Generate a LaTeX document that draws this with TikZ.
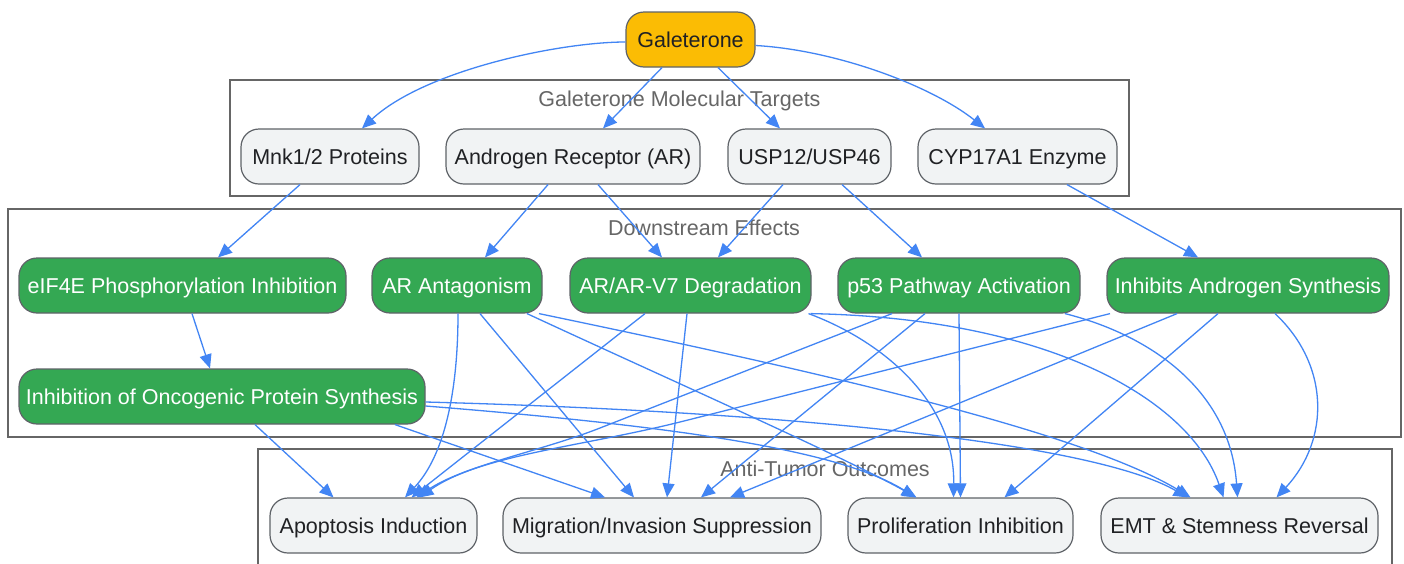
\documentclass[tikz,border=0pt]{standalone}
\usepackage{fontspec}
\setmainfont{Liberation Sans}
\usetikzlibrary{arrows.meta}
\definecolor{edgeblue}{HTML}{4285F4}
\definecolor{gnode}{HTML}{34A853}
\definecolor{ynode}{HTML}{FBBC04}
\definecolor{lnode}{HTML}{F1F3F4}
\definecolor{nborder}{HTML}{5F6368}
\definecolor{cborder}{HTML}{666666}
\definecolor{ntext}{HTML}{202124}
\begin{document}
\begin{tikzpicture}[x=1pt,y=-1pt,
  box/.style={draw=nborder, line width=1.2pt, rounded corners=18pt, minimum height=55pt, inner sep=0pt, text height=15.5pt, text depth=0pt, font=\fontsize{21.5}{25}\selectfont, anchor=center},
  lightbox/.style={box, fill=lnode, text=ntext},
  greenbox/.style={box, fill=gnode, text=white},
  yellowbox/.style={box, fill=ynode, text=ntext},
  cluster/.style={draw=cborder, line width=1.2pt},
  clabel/.style={text=cborder, font=\fontsize{21.5}{25}\selectfont, inner sep=0pt, text height=15.5pt, text depth=0pt},
  conn/.style={draw=edgeblue, line width=1.3pt, -{Triangle[length=14pt,width=12pt]}}
]
\path[use as bounding box] (0,0) rectangle (1404,563);
\clip (0,0) rectangle (1404,563);
\fill[white] (0,0) rectangle (1404,563);

% clusters
\draw[cluster] (230,80) rectangle (1129,196);
\node[clabel] (c1lab) at (679.5,99) {Galeterone Molecular Targets};
\draw[cluster] (8,209) rectangle (1401,437);
\node[clabel] (c2lab) at (704,228) {Downstream Effects};
\draw[cluster] (258,449) rectangle (1392,590);
\node[clabel] (c3lab) at (825,469) {Anti-Tumor Outcomes};

% nodes
\node[yellowbox, minimum width=129pt] (gal) at (690.5,39.5) {Galeterone};
\node[lightbox, minimum width=178pt] (mnk) at (330,156.5) {Mnk1/2 Proteins};
\node[lightbox, minimum width=254pt] (ar) at (573,156.5) {Androgen Receptor (AR)};
\node[lightbox, minimum width=163pt] (usp) at (809.5,156.5) {USP12/USP46};
\node[lightbox, minimum width=199pt] (cyp) at (1017.5,156.5) {CYP17A1 Enzyme};

\node[greenbox, minimum width=327pt] (eif) at (182.5,285.5) {eIF4E Phosphorylation Inhibition};
\node[greenbox, minimum width=170pt] (ara) at (457,285.5) {AR Antagonism};
\node[greenbox, minimum width=241pt] (arv) at (690.5,285.5) {AR/AR-V7 Degradation};
\node[greenbox, minimum width=242pt] (p53) at (959,285.5) {p53 Pathway Activation};
\node[greenbox, minimum width=282pt] (ias) at (1248,285.5) {Inhibits Androgen Synthesis};
\node[greenbox, minimum width=406pt] (onc) at (222,396.5) {Inhibition of Oncogenic Protein Synthesis};

\node[lightbox, minimum width=207pt] (apo) at (373.5,525.5) {Apoptosis Induction};
\node[lightbox, minimum width=318pt] (mig) at (662,525.5) {Migration/Invasion Suppression};
\node[lightbox, minimum width=225pt] (pro) at (960.5,525.5) {Proliferation Inhibition};
\node[lightbox, minimum width=277pt] (emt) at (1239.5,525.5) {EMT \& Stemness Reversal};

% edges: top
\draw[conn] ([yshift=-2.5pt]gal.west) .. controls (560,42) and (425,70) .. ([xshift=32pt]mnk.north);
\draw[conn] ([xshift=-28.5pt]gal.south) -- ([xshift=30pt]ar.north);
\draw[conn] ([xshift=27.5pt]gal.south) -- ([xshift=-29.5pt]usp.north);
\draw[conn] ([yshift=-6pt]gal.east) .. controls (835,50) and (930,85) .. ([xshift=-32.5pt]cyp.north);

% targets -> effects
\draw[conn] ([xshift=-30pt]mnk.south) -- ([xshift=35.5pt]eif.north);
\draw[conn] ([xshift=-25pt]ar.south) -- ([xshift=28pt]ara.north);
\draw[conn] ([xshift=25pt]ar.south) -- ([xshift=-28.5pt]arv.north);
\draw[conn] ([xshift=-26.5pt]usp.south) -- ([xshift=27.5pt]arv.north);
\draw[conn] ([xshift=32.5pt]usp.south) -- ([xshift=-37pt]p53.north);
\draw[conn] ([xshift=49.5pt]cyp.south) -- ([xshift=-50pt]ias.north);
\draw[conn] ([xshift=9.5pt]eif.south) -- ([xshift=-12pt]onc.north);

% effects -> outcomes
\draw[conn] ([xshift=33pt]onc.south) -- ([xshift=-40pt]apo.north);
\draw[conn] ([xshift=173pt]onc.south) -- ([xshift=-57pt]mig.north);
\draw[conn] ([yshift=-9.5pt]onc.east) .. controls (650,424) and (835,447) .. ([xshift=-45pt]pro.north);
\draw[conn] ([yshift=-5.5pt]onc.east) .. controls (800,412) and (1095,444) .. ([xshift=-52pt]emt.north);

\draw[conn] ([xshift=1pt]ara.south) .. controls (458,390) and (445,455) .. ([xshift=31.5pt]apo.north);
\draw[conn] ([xshift=23pt]ara.south) -- ([xshift=-28pt]mig.north);
\draw[conn] ([xshift=70pt]ara.south) .. controls (657,374) and (840,455) .. ([xshift=-44pt]pro.north);
\draw[conn] ([xshift=82pt]ara.south) .. controls (800,368) and (1080,430) .. ([xshift=-49pt]emt.north);

\draw[conn] ([xshift=-45.5pt]arv.south) -- ([xshift=38pt]apo.north);
\draw[conn] ([xshift=-3.5pt]arv.south) -- ([xshift=5pt]mig.north);
\draw[conn] ([xshift=118pt]arv.south) .. controls (880,340) and (955,400) .. ([xshift=-7pt]pro.north);
\draw[conn] ([xshift=120pt]arv.south) .. controls (1050,318) and (1190,400) .. ([xshift=-16pt]emt.north);

\draw[conn] ([xshift=-67pt]p53.south) -- (600,428) .. controls (540,451.6) and (465,465) .. ([xshift=43pt]apo.north);
\draw[conn] ([xshift=-34pt]p53.south) -- ([xshift=39pt]mig.north);
\draw[conn] (p53.south) -- (pro.north);
\draw[conn] ([xshift=106pt]p53.south) .. controls (1150,335) and (1230,390) .. ([xshift=-2pt]emt.north);

\draw[conn] ([xshift=-138pt]ias.south) -- (680,422) .. controls (580,447) and (480,455) .. ([xshift=46pt]apo.north);
\draw[conn] ([xshift=-71pt]ias.south) -- ([xshift=68pt]mig.north);
\draw[conn] ([xshift=-30pt]ias.south) -- ([xshift=44pt]pro.north);
\draw[conn] ([xshift=27pt]ias.south) .. controls (1330,365) and (1330,440) .. ([xshift=37pt]emt.north);
\end{tikzpicture}
\end{document}
